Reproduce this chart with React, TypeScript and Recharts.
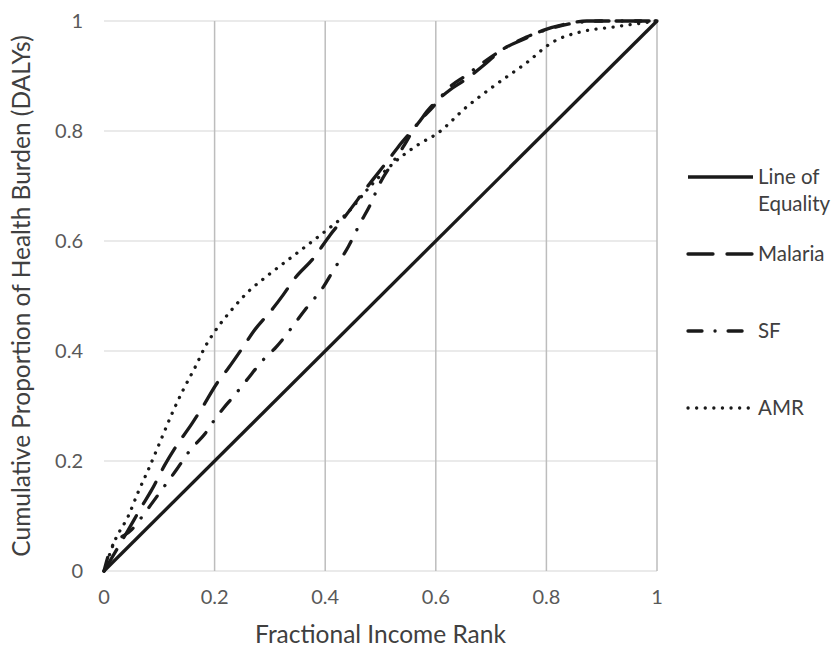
import React from "react";
import {
  LineChart,
  Line,
  XAxis,
  YAxis,
  CartesianGrid,
  ReferenceLine,
} from "recharts";

// 軸の目盛り
const xTicks = [0, 0.2, 0.4, 0.6, 0.8, 1];
const yTicks = [0, 0.2, 0.4, 0.6, 0.8, 1];
const gridX = [0.2, 0.4, 0.6, 0.8, 1];

// Line of Equality
const equalityX = [0, 1];
const equalityY = [0, 1];

// Malaria
const malariaX = [
  0, 0.044, 0.068, 0.086, 0.11, 0.128, 0.159, 0.177, 0.204, 0.225, 0.252, 0.27, 0.306, 0.324,
  0.345, 0.379, 0.409, 0.433, 0.481, 0.514, 0.532, 0.568, 0.586, 0.626, 0.653, 0.692, 0.716,
  0.764, 0.794, 0.843, 0.873, 0.933, 1,
];
const malariaY = [
  0, 0.075, 0.117, 0.147, 0.193, 0.223, 0.268, 0.296, 0.341, 0.369, 0.408, 0.435, 0.478, 0.502,
  0.532, 0.569, 0.611, 0.641, 0.705, 0.747, 0.771, 0.814, 0.838, 0.875, 0.893, 0.924, 0.945,
  0.969, 0.983, 0.996, 1, 1, 1,
];

// SF
const sfX = [
  0, 0.014, 0.05, 0.08, 0.104, 0.131, 0.156, 0.183, 0.2, 0.216, 0.234, 0.258, 0.288, 0.312,
  0.327, 0.345, 0.366, 0.397, 0.415, 0.442, 0.463, 0.481, 0.499, 0.517, 0.541, 0.565, 0.595,
  0.623, 0.656, 0.692, 0.734, 0.764, 0.8, 0.849, 0.896, 1,
];
const sfY = [
  0, 0.044, 0.075, 0.114, 0.147, 0.184, 0.22, 0.25, 0.275, 0.296, 0.317, 0.347, 0.384, 0.408,
  0.426, 0.45, 0.478, 0.517, 0.547, 0.59, 0.632, 0.665, 0.705, 0.735, 0.771, 0.811, 0.844,
  0.878, 0.902, 0.929, 0.956, 0.971, 0.984, 0.996, 1, 1,
];

// AMR
const amrX = [
  0, 0.02, 0.044, 0.062, 0.08, 0.104, 0.122, 0.143, 0.165, 0.183, 0.2, 0.231, 0.261, 0.297,
  0.345, 0.403, 0.439, 0.481, 0.523, 0.571, 0.602, 0.656, 0.704, 0.764, 0.812, 0.861, 0.921, 1,
];
const amrY = [
  0, 0.056, 0.1, 0.144, 0.184, 0.241, 0.284, 0.329, 0.371, 0.408, 0.435, 0.475, 0.508, 0.538,
  0.575, 0.62, 0.65, 0.699, 0.741, 0.777, 0.795, 0.844, 0.881, 0.924, 0.962, 0.98, 0.989, 1,
];

const toPoints = (xs: number[], ys: number[]) => xs.map((x, i) => ({ x, y: ys[i] }));

const FONT = "Lato, 'Open Sans', sans-serif";
const TEXT = "#404040";

const series = [
  { name: "Line of Equality", data: toPoints(equalityX, equalityY), dash: undefined, cap: "butt" },
  { name: "Malaria", data: toPoints(malariaX, malariaY), dash: "25 14", cap: "round" },
  { name: "SF", data: toPoints(sfX, sfY), dash: "14 13 0.1 13", cap: "round" },
  { name: "AMR", data: toPoints(amrX, amrY), dash: "0.1 8.5", cap: "round" },
];

// 凡例（右側、縦並び）
function ChartLegend() {
  return (
    <div
      style={{
        position: "absolute",
        left: 686,
        top: 163,
        width: 148,
        fontFamily: FONT,
        fontSize: 20.5,
        color: TEXT,
      }}
    >
      {series.map((s) => (
        <div key={s.name} style={{ display: "flex", alignItems: "flex-start", height: 77 }}>
          <svg width={72} height={28} style={{ flexShrink: 0 }}>
            <line
              x1={2}
              y1={14}
              x2={67}
              y2={14}
              stroke="#1a1a1a"
              strokeWidth={3.3}
              strokeDasharray={s.dash}
              strokeLinecap={s.cap as any}
            />
          </svg>
          <div style={{ lineHeight: "27px", width: 76, whiteSpace: "normal" }}>{s.name}</div>
        </div>
      ))}
    </div>
  );
}

export default function App() {
  return (
    <div
      style={{
        position: "absolute",
        left: 0,
        top: 0,
        width: 834,
        height: 648,
        background: "#fff",
        overflow: "hidden",
      }}
    >
      <LineChart width={834} height={648} margin={{ top: 21, right: 177, left: 0, bottom: 0 }}>
        <CartesianGrid horizontal vertical={false} stroke="#e3e3e3" strokeWidth={1.5} />
        {gridX.map((gx) => (
          <ReferenceLine key={gx} x={gx} stroke="#bdbdbd" strokeWidth={1.5} />
        ))}
        <XAxis
          type="number"
          dataKey="x"
          domain={[0, 1]}
          ticks={xTicks}
          tickLine={false}
          axisLine={false}
          tickMargin={13}
          height={77}
          tick={{ fill: "#595959", fontSize: 20, fontFamily: FONT }}
          allowDuplicatedCategory={false}
          label={{
            value: "Fractional Income Rank",
            position: "insideBottom",
            offset: 5,
            style: { fill: TEXT, fontSize: 24.5, fontFamily: FONT },
          }}
        />
        <YAxis
          type="number"
          dataKey="y"
          domain={[0, 1]}
          ticks={yTicks}
          tickLine={false}
          axisLine={false}
          tickMargin={15}
          width={104}
          tick={{ fill: "#595959", fontSize: 20, fontFamily: FONT }}
          label={{
            value: "Cumulative Proportion of Health Burden (DALYs)",
            angle: -90,
            position: "insideLeft",
            offset: 21,
            style: { fill: TEXT, fontSize: 24.5, fontFamily: FONT, textAnchor: "middle" },
          }}
        />
        {series.map((s) => (
          <Line
            key={s.name}
            name={s.name}
            data={s.data}
            dataKey="y"
            type="monotone"
            stroke="#1a1a1a"
            strokeWidth={3.3}
            strokeDasharray={s.dash}
            strokeLinecap={s.cap as any}
            dot={false}
            activeDot={false}
            isAnimationActive={false}
          />
        ))}
      </LineChart>
      <ChartLegend />
    </div>
  );
}
